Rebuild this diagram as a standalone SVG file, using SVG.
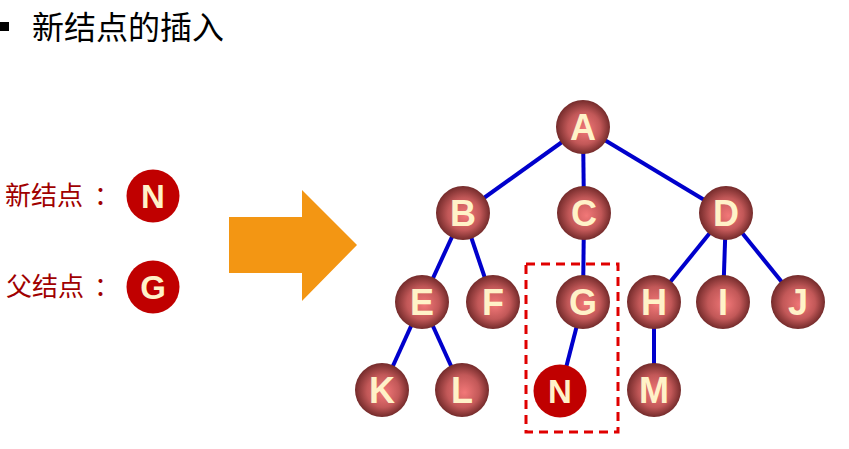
<svg xmlns="http://www.w3.org/2000/svg" width="849" height="449" viewBox="0 0 849 449">
<defs>
<radialGradient id="sph" cx="0.5" cy="0.5" r="0.5" fx="0.55" fy="0.55">
<stop offset="0" stop-color="#f27878"/>
<stop offset="0.6" stop-color="#c25858"/>
<stop offset="1" stop-color="#742b2b"/>
</radialGradient>
<style>
.sph{fill:url(#sph)}
.red{fill:#c00000}
.lbl{font-family:"Liberation Sans",Arial,sans-serif;font-weight:bold;font-size:36px;fill:#fff2c8;text-anchor:middle}
.lbl2{font-family:"Liberation Sans",Arial,sans-serif;font-weight:bold;font-size:33px;fill:#fff2c8;text-anchor:middle}
.edge{stroke:#0000cc;stroke-width:4;fill:none}
.cn{font-family:"Liberation Sans","Noto Sans CJK SC",sans-serif;font-size:26px;fill:#a00000}
</style>
</defs>
<rect width="849" height="449" fill="#ffffff"/>
<rect x="0" y="22" width="9" height="9" fill="#000000"/>
<text x="32" y="39" font-family="'Liberation Sans','Noto Sans CJK SC',sans-serif" font-size="32" fill="#000000">新结点的插入</text>

<g id="legend-new">
<text class="cn" x="5" y="205">新结点</text>
<text class="cn" x="94" y="205">：</text>
<circle class="red" cx="153" cy="196" r="26.5"/>
<text class="lbl2" x="153" y="208">N</text>
</g>
<g id="legend-parent">
<text class="cn" x="6" y="296">父结点</text>
<text class="cn" x="94" y="296">：</text>
<circle class="red" cx="153" cy="287" r="26.5"/>
<text class="lbl2" x="153" y="299">G</text>
</g>

<polygon id="arrow" points="229,217 302,217 302,190 357,245 302,301 302,273 229,273" fill="#f39613"/>

<g id="connectors">
<line class="edge" x1="583" y1="127" x2="463" y2="213"/>
<line class="edge" x1="583" y1="127" x2="584" y2="213"/>
<line class="edge" x1="583" y1="127" x2="726" y2="213"/>
<line class="edge" x1="463" y1="213" x2="422" y2="302"/>
<line class="edge" x1="463" y1="213" x2="493" y2="302"/>
<line class="edge" x1="422" y1="302" x2="382" y2="390"/>
<line class="edge" x1="422" y1="302" x2="462" y2="390"/>
<line class="edge" x1="584" y1="213" x2="583" y2="302"/>
<line class="edge" x1="583" y1="302" x2="560" y2="391"/>
<line class="edge" x1="726" y1="213" x2="654" y2="302"/>
<line class="edge" x1="726" y1="213" x2="723" y2="302"/>
<line class="edge" x1="726" y1="213" x2="798" y2="302"/>
<line class="edge" x1="654" y1="302" x2="654" y2="390"/>
</g>

<rect id="highlight" x="526" y="264" width="92" height="168" fill="none" stroke="#e00000" stroke-width="3" stroke-dasharray="9,6"/>

<g id="A"><circle class="sph" cx="583" cy="127" r="27"/><text class="lbl" x="583" y="140">A</text></g>
<g id="B"><circle class="sph" cx="463" cy="213" r="27"/><text class="lbl" x="463" y="226">B</text></g>
<g id="C"><circle class="sph" cx="584" cy="213" r="27"/><text class="lbl" x="584" y="226">C</text></g>
<g id="D"><circle class="sph" cx="726" cy="213" r="27"/><text class="lbl" x="726" y="226">D</text></g>
<g id="E"><circle class="sph" cx="422" cy="302" r="27"/><text class="lbl" x="422" y="315">E</text></g>
<g id="F"><circle class="sph" cx="493" cy="302" r="27"/><text class="lbl" x="493" y="315">F</text></g>
<g id="G"><circle class="sph" cx="583" cy="302" r="27"/><text class="lbl" x="583" y="315">G</text></g>
<g id="H"><circle class="sph" cx="654" cy="302" r="27"/><text class="lbl" x="654" y="315">H</text></g>
<g id="I"><circle class="sph" cx="723" cy="302" r="27"/><text class="lbl" x="723" y="315">I</text></g>
<g id="J"><circle class="sph" cx="798" cy="302" r="27"/><text class="lbl" x="798" y="315">J</text></g>
<g id="K"><circle class="sph" cx="382" cy="390" r="27"/><text class="lbl" x="382" y="403">K</text></g>
<g id="L"><circle class="sph" cx="462" cy="390" r="27"/><text class="lbl" x="462" y="403">L</text></g>
<g id="N"><circle class="red" cx="560" cy="391" r="26.5"/><text class="lbl2" x="560" y="403">N</text></g>
<g id="M"><circle class="sph" cx="654" cy="390" r="27"/><text class="lbl" x="654" y="403">M</text></g>
</svg>
